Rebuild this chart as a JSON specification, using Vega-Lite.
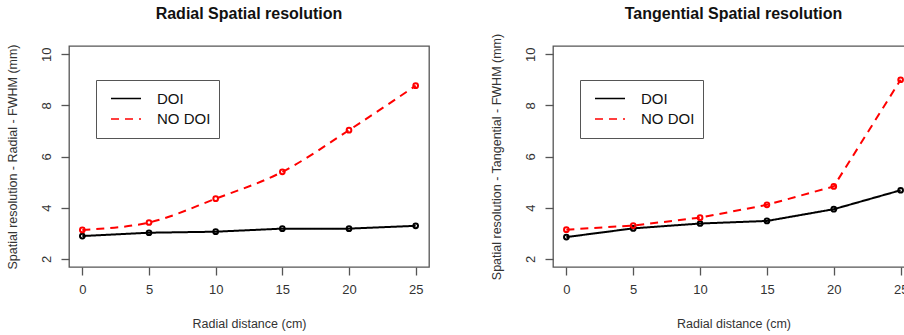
{
  "$schema": "https://vega.github.io/schema/vega-lite/v6.json",
  "background": "white",
  "padding": {"left": 5, "top": 5, "right": 0, "bottom": 0},
  "bounds": "flush",
  "spacing": 124,
  "datasets": {
    "radial": [
      {"dist": 0, "series": "DOI", "fwhm": 2.89},
      {"dist": 5, "series": "DOI", "fwhm": 3.02},
      {"dist": 10, "series": "DOI", "fwhm": 3.06},
      {"dist": 15, "series": "DOI", "fwhm": 3.18},
      {"dist": 20, "series": "DOI", "fwhm": 3.18},
      {"dist": 25, "series": "DOI", "fwhm": 3.29},
      {"dist": 0, "series": "NO DOI", "fwhm": 3.13},
      {"dist": 5, "series": "NO DOI", "fwhm": 3.42},
      {"dist": 10, "series": "NO DOI", "fwhm": 4.35},
      {"dist": 15, "series": "NO DOI", "fwhm": 5.40},
      {"dist": 20, "series": "NO DOI", "fwhm": 7.03},
      {"dist": 25, "series": "NO DOI", "fwhm": 8.77}
    ],
    "tangential": [
      {"dist": 0, "series": "DOI", "fwhm": 2.85},
      {"dist": 5, "series": "DOI", "fwhm": 3.19},
      {"dist": 10, "series": "DOI", "fwhm": 3.38},
      {"dist": 15, "series": "DOI", "fwhm": 3.48},
      {"dist": 20, "series": "DOI", "fwhm": 3.94},
      {"dist": 25, "series": "DOI", "fwhm": 4.68},
      {"dist": 0, "series": "NO DOI", "fwhm": 3.14},
      {"dist": 5, "series": "NO DOI", "fwhm": 3.30},
      {"dist": 10, "series": "NO DOI", "fwhm": 3.61},
      {"dist": 15, "series": "NO DOI", "fwhm": 4.11},
      {"dist": 20, "series": "NO DOI", "fwhm": 4.83},
      {"dist": 25, "series": "NO DOI", "fwhm": 9.0}
    ]
  },
  "config": {
    "font": "Liberation Sans",
    "view": {"stroke": "#555", "strokeWidth": 1.3},
    "axis": {
      "grid": false, "domain": false,
      "tickColor": "#555", "tickSize": 8, "tickWidth": 1.3,
      "labelFont": "Liberation Sans", "labelFontSize": 13, "labelColor": "#333",
      "titleFont": "Liberation Sans", "titleFontSize": 12.5, "titleFontWeight": "normal", "titleColor": "#333"
    },
    "axisX": {"labelPadding": 8.5, "titlePadding": 21.2},
    "axisY": {"labelAngle": -90, "labelPadding": 8, "titlePadding": 20.7},
    "title": {"font": "Liberation Sans", "fontSize": 16, "fontWeight": "bold", "color": "#111", "anchor": "middle", "frame": "group"},
    "legend": {
      "orient": "none", "legendX": 27, "legendY": 34,
      "strokeColor": "#555", "fillColor": "white", "padding": 8.5,
      "symbolType": "stroke", "symbolSize": 900, "symbolStrokeWidth": 1.3, "symbolOffset": 5.5,
      "clipHeight": 20,
      "labelFont": "Liberation Sans", "labelFontSize": 15, "labelColor": "#111",
      "labelOffset": 15, "rowPadding": 0.5, "title": null
    }
  },
  "resolve": {
    "scale": {"x": "independent", "y": "independent", "color": "independent", "strokeDash": "independent", "stroke": "independent"},
    "legend": {"color": "independent", "strokeDash": "independent"}
  },
  "hconcat": [
    {
      "width": 360, "height": 221,
      "title": {"text": "Radial Spatial resolution", "offset": 21.7},
      "data": {"name": "radial"},
      "encoding": {
        "x": {"field": "dist", "type": "quantitative", "scale": {"domain": [-1, 26], "nice": false, "zero": false},
              "axis": {"values": [0, 5, 10, 15, 20, 25], "title": "Radial distance (cm)"}},
        "y": {"field": "fwhm", "type": "quantitative", "scale": {"domain": [1.68, 10.32], "nice": false, "zero": false},
              "axis": {"values": [2, 4, 6, 8, 10], "title": "Spatial resolution - Radial - FWHM (mm)"}}
      },
      "layer": [
        {
          "transform": [{"filter": "datum.series === 'DOI'"}],
          "mark": {"type": "line", "strokeWidth": 2},
          "encoding": {
            "color": {"field": "series", "type": "nominal", "scale": {"domain": ["DOI", "NO DOI"], "range": ["#000000", "#ff0000"]},
                      "legend": {"encode": {"symbols": {"update": {"strokeDash": {"signal": "datum.value === 'NO DOI' ? [3, 2] : [1, 0]"}}}}}},
            "strokeDash": {"field": "series", "type": "nominal", "scale": {"domain": ["DOI", "NO DOI"], "range": [[1, 0], [8, 6]]}}
          }
        },
        {
          "transform": [{"filter": "datum.series === 'NO DOI'"}],
          "mark": {"type": "line", "strokeWidth": 2, "interpolate": "monotone"},
          "encoding": {
            "color": {"field": "series", "type": "nominal"},
            "strokeDash": {"field": "series", "type": "nominal"}
          }
        },
        {
          "mark": {"type": "point", "filled": false, "size": 22, "strokeWidth": 2, "opacity": 1},
          "encoding": {
            "stroke": {"field": "series", "type": "nominal", "scale": {"domain": ["DOI", "NO DOI"], "range": ["#000000", "#ff0000"]}, "legend": null}
          }
        }
      ]
    },
    {
      "width": 361, "height": 221,
      "title": {"text": "Tangential Spatial resolution", "offset": 11.2},
      "data": {"name": "tangential"},
      "encoding": {
        "x": {"field": "dist", "type": "quantitative", "scale": {"domain": [-1, 26], "nice": false, "zero": false},
              "axis": {"values": [0, 5, 10, 15, 20, 25], "title": "Radial distance (cm)"}},
        "y": {"field": "fwhm", "type": "quantitative", "scale": {"domain": [1.68, 10.32], "nice": false, "zero": false},
              "axis": {"values": [2, 4, 6, 8, 10], "title": "Spatial resolution - Tangential - FWHM (mm)"}}
      },
      "layer": [
        {
          "mark": {"type": "line", "strokeWidth": 2},
          "encoding": {
            "color": {"field": "series", "type": "nominal", "scale": {"domain": ["DOI", "NO DOI"], "range": ["#000000", "#ff0000"]},
                      "legend": {"encode": {"symbols": {"update": {"strokeDash": {"signal": "datum.value === 'NO DOI' ? [3, 2] : [1, 0]"}}}}}},
            "strokeDash": {"field": "series", "type": "nominal", "scale": {"domain": ["DOI", "NO DOI"], "range": [[1, 0], [8, 6]]}}
          }
        },
        {
          "mark": {"type": "point", "filled": false, "size": 22, "strokeWidth": 2, "opacity": 1},
          "encoding": {
            "stroke": {"field": "series", "type": "nominal", "scale": {"domain": ["DOI", "NO DOI"], "range": ["#000000", "#ff0000"]}, "legend": null}
          }
        }
      ]
    }
  ]
}
